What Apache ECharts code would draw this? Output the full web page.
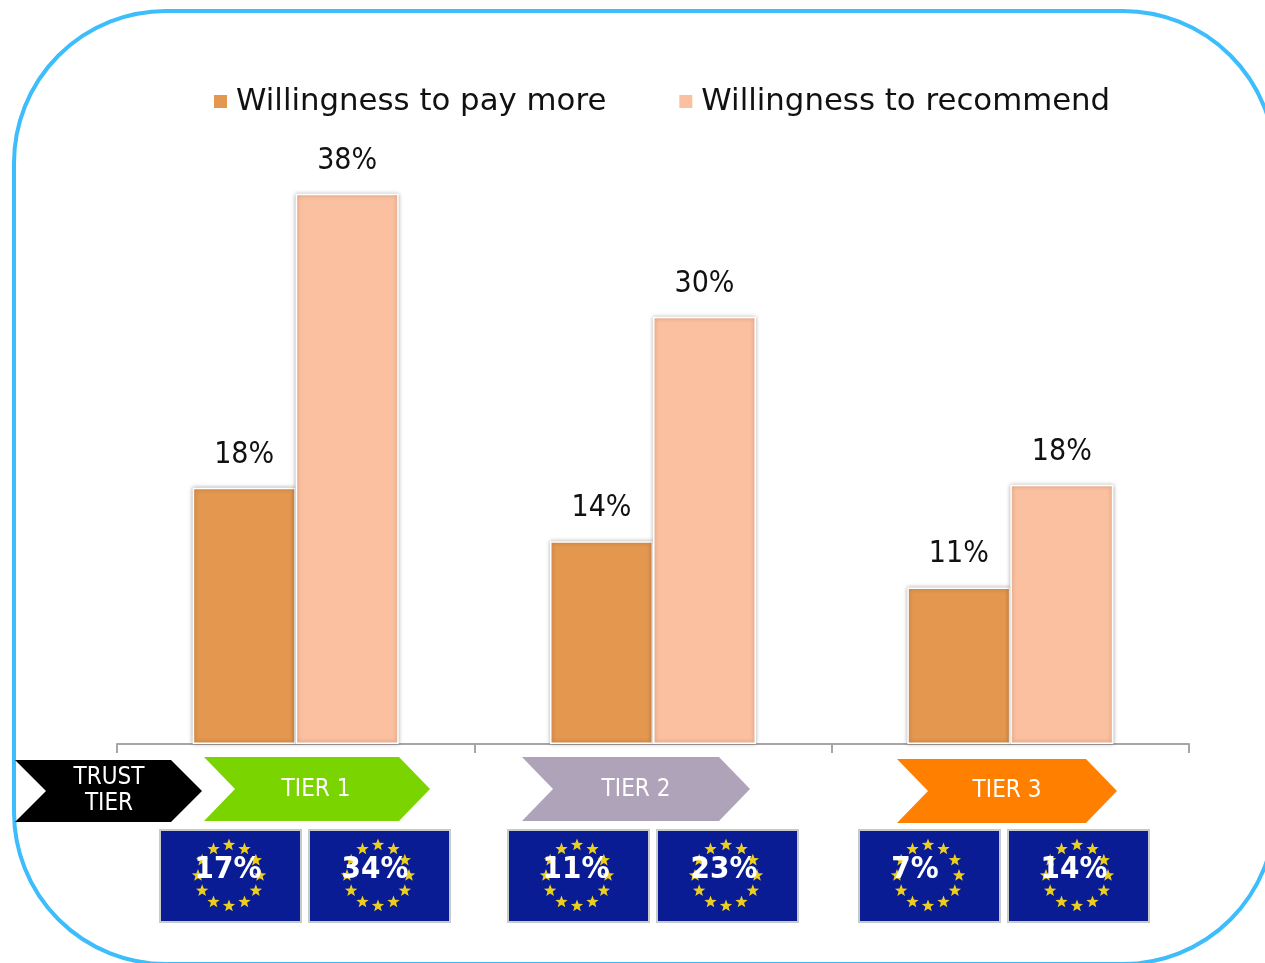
<!DOCTYPE html>
<html><head><meta charset="utf-8">
<style>html,body{margin:0;padding:0;background:#fff}#c{width:1265px;height:963px}</style>
<script src="https://cdn.jsdelivr.net/npm/echarts@6/dist/echarts.min.js"></script>
</head><body><div id="c"></div>
<script>
const categories = ['TIER 1', 'TIER 2', 'TIER 3'];
const seriesNames = ['Willingness to pay more', 'Willingness to recommend'];
const payMore = [17.7, 14, 10.8];
const recommend = [38, 29.5, 17.9];
const euPayMore = ['17%', '11%', '7%'];
const euRecommend = ['34%', '23%', '14%'];
const trustLabel = ['TRUST', 'TIER'];

const FONT = '"DejaVu Sans", sans-serif';
const COND = '"DejaVu Sans Condensed", "DejaVu Sans", sans-serif';
const chart = echarts.init(document.getElementById('c'), null, {renderer:'canvas'});

function chevron(x1, x2, y1, y2, notch, tip, fill) {
  const m = (y1 + y2) / 2;
  return {type:'polygon', z:5, shape:{points:[[x1,y1],[x2-tip,y1],[x2,m],[x2-tip,y2],[x1,y2],[x1+notch,m]]}, style:{fill}};
}
function star(cx, cy, R) {
  const pts = [];
  for (let i = 0; i < 10; i++) {
    const r = i % 2 ? R * 0.42 : R, a = -Math.PI / 2 + i * Math.PI / 5;
    pts.push([cx + r * Math.cos(a), cy + r * Math.sin(a)]);
  }
  return {type:'polygon', z:6, shape:{points:pts}, style:{fill:'#eccf1e'}};
}
function flag(x, label, textX) {
  const w = 141, y = 830, h = 92, cx = x + w / 2 - 1.5, cy = y + h / 2 - 0.5, out = [];
  out.push({type:'rect', z:5, shape:{x:x, y:y, width:w, height:h}, style:{fill:'#0a1c94', stroke:'#c8ccc8', lineWidth:2}});
  for (let i = 0; i < 12; i++) {
    const a = i * Math.PI / 6;
    out.push(star(cx + 31 * Math.sin(a), cy - 30.5 * Math.cos(a), 6.5));
  }
  out.push({type:'text', z:7, style:{x:textX, y:870, text:label, fill:'#fff', font:'bold 31px ' + COND, textAlign:'center', textVerticalAlign:'middle'}});
  return out;
}
function tierText(x, y, text, size) {
  return {type:'text', z:7, style:{x, y, text, fill:'#fff', font:size + 'px ' + COND, textAlign:'center', textVerticalAlign:'middle'}};
}

const labelStyle = {show:true, position:'top', distance:18, fontFamily:COND, fontSize:30, color:'#111',
  formatter:p => Math.round(p.value) + '%'};
const barStyle = c => ({color:c, borderColor:'#fff', borderWidth:1.5, shadowColor:'rgba(0,0,0,0.3)', shadowBlur:4});

chart.setOption({
  animation:false,
  backgroundColor:'#fff',
  legend:{
    data:seriesNames, left:207, top:81, itemWidth:15, itemHeight:15, itemGap:71, icon:'rect',
    textStyle:{fontFamily:FONT, fontSize:30.8, color:'#111', padding:[0,0,0,3]}
  },
  grid:{left:117, right:76, top:20, bottom:219},
  xAxis:{type:'category', data:categories,
    axisLine:{lineStyle:{color:'#a6a6a6', width:2}},
    axisTick:{show:true, length:9, lineStyle:{color:'#a6a6a6', width:2}},
    axisLabel:{show:false}},
  yAxis:{type:'value', min:0, max:50, show:false, splitLine:{show:false}},
  series:[
    {name:seriesNames[0], type:'bar', data:payMore, barWidth:103, barGap:'0%', itemStyle:barStyle('#e3974f'), label:labelStyle},
    {name:seriesNames[1], type:'bar', data:recommend, barWidth:103, itemStyle:barStyle('#fbc09f'), label:labelStyle}
  ],
  graphic:[
    {type:'rect', z:1, shape:{x:14, y:11, width:1261, height:953, r:152}, style:{fill:'none', stroke:'#3dbdfb', lineWidth:4}},
    chevron(15,202,760,822,31,31,'#000'),
    tierText(109,778,trustLabel[0],24), tierText(109,804,trustLabel[1],24),
    chevron(204,430,757,821,31,31,'#7ad400'),
    tierText(316,790,categories[0],24),
    chevron(522,750,757,821,31,31,'#aea3b8'),
    tierText(636,790,categories[1],24),
    chevron(897,1117,759,823,31,31,'#ff8000'),
    tierText(1007,791,categories[2],24),
    ...flag(160, euPayMore[0], 228), ...flag(309, euRecommend[0], 375),
    ...flag(508, euPayMore[1], 576), ...flag(657, euRecommend[1], 724),
    ...flag(859, euPayMore[2], 915), ...flag(1008, euRecommend[2], 1074)
  ]
});
</script></body></html>
